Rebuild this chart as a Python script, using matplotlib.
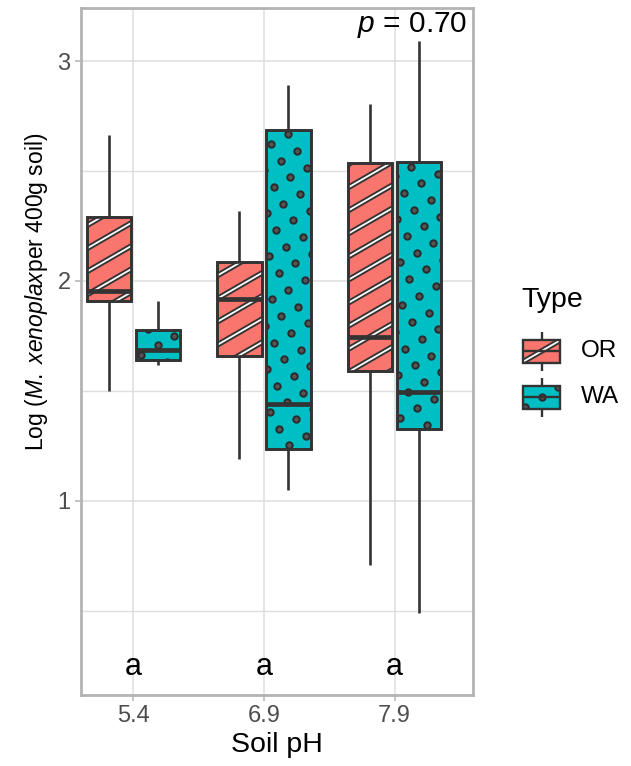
import numpy as np
import matplotlib
matplotlib.use('Agg')
import matplotlib.pyplot as plt
from matplotlib.lines import Line2D
from matplotlib.patches import PathPatch, Rectangle
from matplotlib.transforms import IdentityTransform

plt.rcParams['font.family'] = ['Liberation Sans', 'DejaVu Sans']
plt.rcParams['mathtext.fontset'] = 'custom'
plt.rcParams['mathtext.rm'] = 'Liberation Sans'
plt.rcParams['mathtext.it'] = 'Liberation Sans:italic'

# ---------------- data ----------------
ph_levels = ['5.4', '6.9', '7.9']
types = ['OR', 'WA']

or_whislo = [1.50, 1.19, 0.71]
or_q1 = [1.91, 1.66, 1.59]
or_med = [1.955, 1.92, 1.745]
or_q3 = [2.29, 2.085, 2.535]
or_whishi = [2.665, 2.32, 2.805]

wa_whislo = [1.62, 1.05, 0.49]
wa_q1 = [1.64, 1.235, 1.325]
wa_med = [1.685, 1.44, 1.495]
wa_q3 = [1.775, 2.685, 2.54]
wa_whishi = [1.91, 2.89, 3.09]

sig_letters = ['a', 'a', 'a']
p_value = 0.70

# ---------------- style ----------------
fill_colors = {'OR': '#F8766D', 'WA': '#00BFC4'}
dark = '#333333'
grid_col = '#DEDEDE'
border_col = '#B3B3B3'

W, H = 631, 766
fig = plt.figure(figsize=(W / 100, H / 100), dpi=100)
ax = fig.add_axes([81 / W, 1 - 695 / H, (473 - 81) / W, (695 - 8) / H])

series = {
    'OR': (or_whislo, or_q1, or_med, or_q3, or_whishi),
    'WA': (wa_whislo, wa_q1, wa_med, wa_q3, wa_whishi),
}

base_pos = np.arange(1, len(ph_levels) + 1)
offset = 0.1875
box_w = 0.34
box_lw = 1.9

boxes = {}
for ti, t in enumerate(types):
    lo, q1, med, q3, hi = series[t]
    stats = [dict(whislo=lo[i], q1=q1[i], med=med[i], q3=q3[i], whishi=hi[i], fliers=[])
             for i in range(len(ph_levels))]
    pos = base_pos + (-offset if ti == 0 else offset)
    bp = ax.bxp(stats, positions=pos, widths=box_w, patch_artist=True,
                showcaps=False, showfliers=False, manage_ticks=False,
                boxprops=dict(facecolor=fill_colors[t], edgecolor=dark, linewidth=box_lw, zorder=2),
                whiskerprops=dict(color=dark, linewidth=box_lw, zorder=1.9, solid_capstyle='butt'),
                medianprops=dict(color=dark, linewidth=3.4, zorder=2.4, solid_capstyle='butt'))
    boxes[t] = bp['boxes']

ax.set_xlim(0.6, 3.6)
ax.set_ylim(0.118, 3.241)
ax.set_autoscale_on(False)


# ---------------- patterns ----------------
def add_stripes(axis, patch, ext, spacing=20.0, angle=30.0, zorder=2.1):
    x0, y0, x1, y1 = ext
    th = np.deg2rad(angle)
    d = np.array([np.cos(th), np.sin(th)])
    n = np.array([-np.sin(th), np.cos(th)])
    ctr = np.array([(x0 + x1) / 2, (y0 + y1) / 2])
    corners = np.array([[x0, y0], [x1, y0], [x0, y1], [x1, y1]])
    cs = (corners - ctr) @ n
    L = np.hypot(x1 - x0, y1 - y0)
    kmin = int(np.floor(cs.min() / spacing)) - 1
    kmax = int(np.ceil(cs.max() / spacing)) + 1
    for k in range(kmin, kmax + 1):
        p0 = ctr + k * spacing * n
        a, b = p0 - L * d, p0 + L * d
        for col, lw in ((dark, 4.0), ('white', 1.3)):
            ln = Line2D([a[0], b[0]], [a[1], b[1]], color=col, lw=lw,
                        transform=IdentityTransform(), zorder=zorder, solid_capstyle='butt')
            axis.add_artist(ln)
            ln.set_clip_path(patch)


def add_dots(axis, patch, ext, spacing=19.3, angle=30.0, zorder=2.1):
    x0, y0, x1, y1 = ext
    th = np.deg2rad(angle)
    va = spacing * np.array([np.cos(th), np.sin(th)])
    vb = spacing * np.array([-np.sin(th), np.cos(th)])
    ctr = np.array([(x0 + x1) / 2, (y0 + y1) / 2])
    N = int(np.hypot(x1 - x0, y1 - y0) / spacing) + 2
    pts = []
    for i in range(-N, N + 1):
        for j in range(-N, N + 1):
            p = ctr + i * va + j * vb
            if x0 - 5 <= p[0] <= x1 + 5 and y0 - 5 <= p[1] <= y1 + 5:
                pts.append(p)
    pts = np.array(pts)
    ln = Line2D(pts[:, 0], pts[:, 1], ls='none', marker='o', ms=4.6,
                mfc='#555555', mec='#2b2b2b', mew=1.4,
                transform=IdentityTransform(), zorder=zorder)
    axis.add_artist(ln)
    ln.set_clip_path(patch)


for t in types:
    for bx in boxes[t]:
        e = bx.get_path().get_extents(bx.get_transform())
        ext = (e.x0, e.y0, e.x1, e.y1)
        if t == 'OR':
            add_stripes(ax, bx, ext)
        else:
            add_dots(ax, bx, ext)
        outline = PathPatch(bx.get_path(), transform=bx.get_transform(), fill=False,
                            edgecolor=dark, linewidth=box_lw, zorder=2.3)
        ax.add_patch(outline)

# ---------------- axes styling ----------------
ax.set_xticks(base_pos)
ax.set_xticklabels(ph_levels)
ax.set_yticks([1, 2, 3])
ax.set_yticks([0.5, 1.5, 2.5], minor=True)
ax.tick_params(axis='both', which='major', labelsize=17, labelcolor='#4D4D4D',
               color=border_col, length=4.5, width=1.1, pad=3)
ax.tick_params(axis='both', which='minor', length=0)
ax.grid(which='major', color=grid_col, lw=1.1)
ax.grid(which='minor', axis='y', color=grid_col, lw=1.0)
ax.set_axisbelow(True)
for sp in ax.spines.values():
    sp.set_color(border_col)
    sp.set_linewidth(2.0)

for i, lt in enumerate(sig_letters):
    ax.text(base_pos[i], 0.245, lt, ha='center', va='center', fontsize=22, color='black')

ax.text(3.56, 3.165, r'$p$ = ' + f'{p_value:.2f}', ha='right', va='center',
        fontsize=21.5, color='black')

# ---------------- overlay for titles & legend (pixel coords) ----------------
lax = fig.add_axes([0, 0, 1, 1], zorder=5)
lax.set_xlim(0, W)
lax.set_ylim(H, 0)
lax.axis('off')

lax.text(37, 291.5, r'Log ($\mathit{M.\ xenoplax}$per 400g soil)', rotation=90,
         ha='center', va='center', fontsize=16.5, color='black')
lax.text(277, 745, 'Soil pH', ha='center', va='center', fontsize=20.5, color='black')

lax.text(521, 300, 'Type', ha='left', va='center', fontsize=20.5, color='black')

key_x0, key_x1 = 523.3, 560.0
key_cx = (key_x0 + key_x1) / 2
key_specs = [('OR', 351.0), ('WA', 397.0)]
for t, cy in key_specs:
    lax.plot([key_cx, key_cx], [cy - 19.5, cy + 19.5], color=dark, lw=1.7,
             solid_capstyle='butt', zorder=1)
    rect = Rectangle((key_x0, cy - 11.5), key_x1 - key_x0, 23, facecolor=fill_colors[t],
                     edgecolor='none', zorder=2)
    lax.add_patch(rect)
    e = rect.get_path().get_extents(rect.get_transform())
    ext = (e.x0, e.y0, e.x1, e.y1)
    if t == 'OR':
        add_stripes(lax, rect, ext, spacing=40, zorder=2.1)
    else:
        add_dots(lax, rect, ext, zorder=2.1)
    lax.add_patch(Rectangle((key_x0, cy - 11.5), key_x1 - key_x0, 23, fill=False,
                            edgecolor=dark, lw=1.7, zorder=2.3))
    lax.plot([key_x0, key_x1], [cy, cy], color=dark, lw=1.7, zorder=2.4,
             solid_capstyle='butt')
    lax.text(581, cy, t, ha='left', va='center', fontsize=17.5, color='black')

fig.savefig('out.png', dpi=100)
